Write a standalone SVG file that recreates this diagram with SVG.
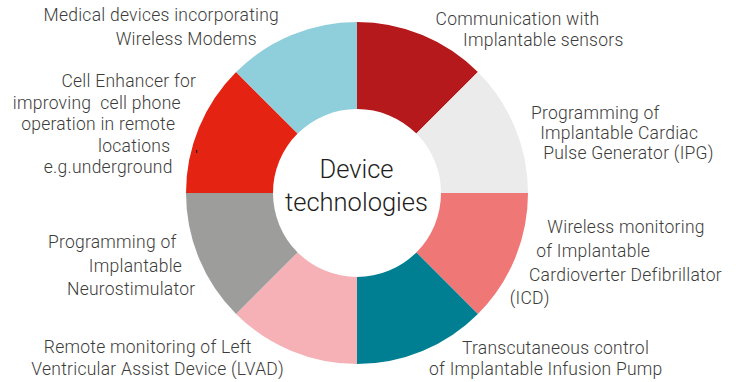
<svg xmlns="http://www.w3.org/2000/svg" width="742" height="382" viewBox="0 0 742 382">
  <style>
    .lbl { font-family: Roboto, "Liberation Sans", sans-serif; font-size: 17.5px; font-weight: 300; letter-spacing: 0.25px; fill: #3c3c3b; text-anchor: middle; }
    .hub { font-family: Roboto, "Liberation Sans", sans-serif; font-size: 25.5px; font-weight: 300; fill: #1d1d1b; text-anchor: middle; }
  </style>
  <rect width="742" height="382" fill="#ffffff"/>

  <!-- ring segments: centre (357,193), outer r 171, inner r 84 -->
  <g id="seg-communication">
    <path d="M357 22 A171 171 0 0 1 477.916 72.084 L416.397 133.603 A84 84 0 0 0 357 109 Z" fill="#b5191b"/>
    <text class="lbl" x="517.5" y="25">Communication with</text>
    <text class="lbl" x="543.3" y="45.7">Implantable sensors</text>
  </g>
  <g id="seg-ipg">
    <path d="M477.916 72.084 A171 171 0 0 1 528 193 L441 193 A84 84 0 0 0 416.397 133.603 Z" fill="#ebebeb"/>
    <text class="lbl" x="595.3" y="119">Programming of</text>
    <text class="lbl" x="619.2" y="139.3">Implantable Cardiac</text>
    <text class="lbl" x="628.5" y="159.3">Pulse Generator (IPG)</text>
  </g>
  <g id="seg-icd">
    <path d="M528 193 A171 171 0 0 1 477.916 313.916 L416.397 252.397 A84 84 0 0 0 441 193 Z" fill="#ef7776"/>
    <text class="lbl" x="626" y="232.7">Wireless monitoring</text>
    <text class="lbl" x="593.2" y="256.7">of Implantable</text>
    <text class="lbl" x="625.5" y="280.7">Cardioverter Defibrillator</text>
    <text class="lbl" x="529.7" y="304.3">(ICD)</text>
  </g>
  <g id="seg-infusion">
    <path d="M477.916 313.916 A171 171 0 0 1 357 364 L357 277 A84 84 0 0 0 416.397 252.397 Z" fill="#007f92"/>
    <text class="lbl" x="555.5" y="354">Transcutaneous control</text>
    <text class="lbl" x="545.8" y="375">of Implantable Infusion Pump</text>
  </g>
  <g id="seg-lvad">
    <path d="M357 364 A171 171 0 0 1 236.084 313.916 L297.603 252.397 A84 84 0 0 0 357 277 Z" fill="#f5b1b6"/>
    <text class="lbl" x="147.8" y="353.3">Remote monitoring of Left</text>
    <text class="lbl" x="157.7" y="375">Ventricular Assist Device (LVAD)</text>
  </g>
  <g id="seg-neuro">
    <path d="M236.084 313.916 A171 171 0 0 1 186 193 L273 193 A84 84 0 0 0 297.603 252.397 Z" fill="#9d9d9c"/>
    <text class="lbl" x="112.2" y="248.3">Programming of</text>
    <text class="lbl" x="135.5" y="271.7">Implantable</text>
    <text class="lbl" x="131.2" y="295">Neurostimulator</text>
  </g>
  <g id="seg-cell">
    <path d="M186 193 A171 171 0 0 1 236.084 72.084 L297.603 133.603 A84 84 0 0 0 273 193 Z" fill="#e42313"/>
    <text class="lbl" x="128.8" y="87.3">Cell Enhancer for</text>
    <text class="lbl" x="96.8" y="109.3" style="white-space:pre">improving  cell phone</text>
    <text class="lbl" x="98.2" y="130">operation in remote</text>
    <text class="lbl" x="134.2" y="151.7">locations</text>
    <text class="lbl" x="108.2" y="173.3">e.g.underground</text>
    <rect x="196" y="150" width="1.2" height="3" fill="#1d1d1b"/>
  </g>
  <g id="seg-modems">
    <path d="M236.084 72.084 A171 171 0 0 1 357 22 L357 109 A84 84 0 0 0 297.603 133.603 Z" fill="#8ecfdb"/>
    <text class="lbl" x="161.3" y="20.7">Medical devices incorporating</text>
    <text class="lbl" x="186.3" y="45">Wireless Modems</text>
  </g>

  <g id="hub">
    <text class="hub" x="356.5" y="178">Device</text>
    <text class="hub" x="356.5" y="211">technologies</text>
  </g>

  <g id="connectors"/>
</svg>
